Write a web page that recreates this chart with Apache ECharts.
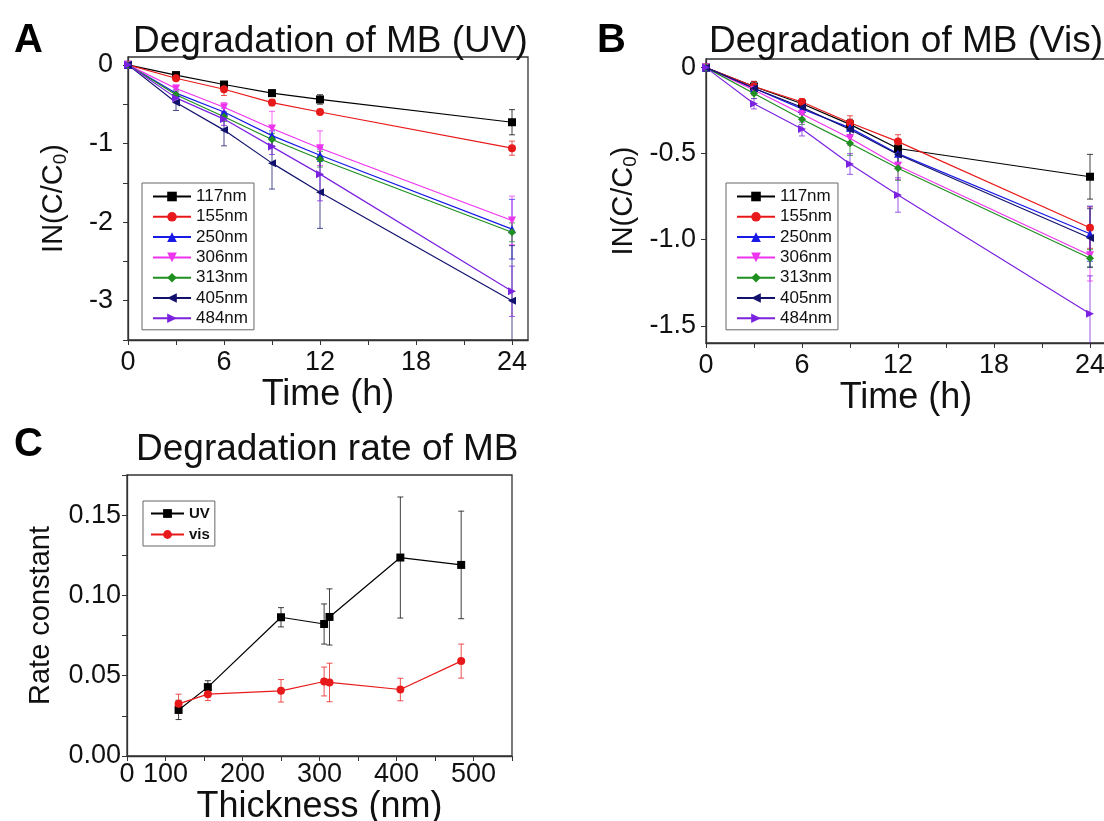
<!DOCTYPE html>
<html><head><meta charset="utf-8">
<script src="https://cdn.jsdelivr.net/npm/echarts@6/dist/echarts.min.js"></script>
<style>html,body{margin:0;padding:0;background:#fff}#c{width:1104px;height:821px}</style>
</head><body><div id="c"></div>
<script>
// ---------- data ----------
const timeH = [0, 3, 6, 9, 12, 24];
const seriesNames = ['117nm', '155nm', '250nm', '306nm', '313nm', '405nm', '484nm'];

// Panel A: UV, ln(C/C0)
const uv117 = [0, -0.13, -0.25, -0.36, -0.44, -0.73];
const uv155 = [0, -0.17, -0.31, -0.48, -0.60, -1.06];
const uv250 = [0, -0.36, -0.60, -0.90, -1.15, -2.09];
const uv306 = [0, -0.30, -0.54, -0.81, -1.06, -1.98];
const uv313 = [0, -0.38, -0.66, -0.95, -1.20, -2.13];
const uv405 = [0, -0.48, -0.83, -1.25, -1.62, -3.00];
const uv484 = [0, -0.42, -0.69, -1.04, -1.39, -2.88];
const uvErr117 = [0, 0.03, 0.03, 0.04, 0.06, 0.16];
const uvErr155 = [0, 0.03, 0.08, 0.04, 0.03, 0.09];
const uvErr250 = [0, 0.05, 0.05, 0.06, 0.08, 0.38];
const uvErr306 = [0, 0.04, 0.06, 0.22, 0.22, 0.31];
const uvErr313 = [0, 0.05, 0.06, 0.08, 0.10, 0.12];
const uvErr405 = [0, 0.10, 0.20, 0.33, 0.46, 0.70];
const uvErr484 = [0, 0.06, 0.08, 0.10, 0.34, 0.32];

// Panel B: visible, ln(C/C0)
const vis117 = [0, -0.11, -0.21, -0.33, -0.47, -0.634];
const vis155 = [0, -0.11, -0.20, -0.32, -0.43, -0.93];
const vis250 = [0, -0.12, -0.24, -0.35, -0.50, -0.965];
const vis306 = [0, -0.13, -0.27, -0.41, -0.57, -1.09];
const vis313 = [0, -0.15, -0.30, -0.44, -0.585, -1.108];
const vis405 = [0, -0.12, -0.23, -0.36, -0.505, -0.99];
const vis484 = [0, -0.21, -0.357, -0.56, -0.74, -1.43];
const visErr117 = [0, 0.03, 0.02, 0.03, 0.04, 0.13];
const visErr155 = [0, 0.03, 0.02, 0.04, 0.04, 0.12];
const visErr250 = [0, 0.03, 0.03, 0.04, 0.05, 0.16];
const visErr306 = [0, 0.03, 0.03, 0.04, 0.08, 0.15];
const visErr313 = [0, 0.03, 0.03, 0.07, 0.07, 0.05];
const visErr405 = [0, 0.02, 0.03, 0.04, 0.05, 0.17];
const visErr484 = [0, 0.03, 0.04, 0.06, 0.10, 0.22];

// Panel C: rate constants vs thickness
const thicknessNm = [117, 155, 250, 306, 313, 405, 484];
const rateUV = [0.0287, 0.0429, 0.0864, 0.0822, 0.0866, 0.1236, 0.1190];
const rateUVErr = [0.006, 0.004, 0.006, 0.0125, 0.0175, 0.0377, 0.0335];
const rateVis = [0.0325, 0.0385, 0.0406, 0.0464, 0.0458, 0.0414, 0.0591];
const rateVisErr = [0.006, 0.004, 0.007, 0.009, 0.012, 0.007, 0.0106];

// Tick positions / labels
const timeTicks = [0, 3, 6, 9, 12, 15, 18, 21, 24];
const timeLabels = [0, 6, 12, 18, 24];
const uvYTicks = [0, -0.5, -1, -1.5, -2, -2.5, -3, -3.5];
const uvYLabels = [0, -1, -2, -3];
const visYTicks = [0, -0.5, -1, -1.5];
const thickTicks = [50, 100, 150, 200, 250, 300, 350, 400, 450, 500, 550];
const thickLabels = [50, 100, 200, 300, 400, 500];
const rateTicks = [0, 0.025, 0.05, 0.075, 0.1, 0.125, 0.15, 0.175];
const rateLabels = [0, 0.05, 0.1, 0.15];

// ---------- styles ----------
const FONT = "'Liberation Sans', Arial, sans-serif";
const lineColors = ['#000000', '#e8191a', '#1a1ae6', '#ee33ee', '#1f8f1f', '#12126e', '#7b22e0'];
const symbols = ['rect', 'circle', 'triangle', 'triangle', 'diamond', 'triangle', 'triangle'];
const symbolRot = [0, 0, 0, 180, 0, 90, -90];
const uvSets = [uv117, uv155, uv250, uv306, uv313, uv405, uv484];
const uvErrSets = [uvErr117, uvErr155, uvErr250, uvErr306, uvErr313, uvErr405, uvErr484];
const visSets = [vis117, vis155, vis250, vis306, vis313, vis405, vis484];
const visErrSets = [visErr117, visErr155, visErr250, visErr306, visErr313, visErr405, visErr484];

function errRender(color) {
  return function (params, api) {
    const x = api.value(0), y = api.value(1), e = api.value(2);
    if (!e) return null;
    const a = api.coord([x, y + e]), b = api.coord([x, y - e]);
    const w = 3;
    const st = { stroke: color, lineWidth: 1, opacity: 0.75 };
    return {
      type: 'group', children: [
        { type: 'line', shape: { x1: a[0], y1: a[1], x2: b[0], y2: b[1] }, style: st },
        { type: 'line', shape: { x1: a[0] - w, y1: a[1], x2: a[0] + w, y2: a[1] }, style: st },
        { type: 'line', shape: { x1: b[0] - w, y1: b[1], x2: b[0] + w, y2: b[1] }, style: st }
      ]
    };
  };
}

const series = [];
function addPanel(sets, errSets, gi, xs) {
  sets.forEach((arr, k) => {
    series.push({
      type: 'custom', name: seriesNames[k] + ' err' + gi, xAxisIndex: gi, yAxisIndex: gi,
      renderItem: errRender(lineColors[k]), clip: true, z: 1,
      encode: { x: 0, y: 1 },
      data: xs.map((t, i) => [t, arr[i], errSets[k][i]])
    });
    series.push({
      type: 'line', name: seriesNames[k], xAxisIndex: gi, yAxisIndex: gi,
      data: xs.map((t, i) => [t, arr[i]]),
      symbol: symbols[k], symbolSize: 8, symbolRotate: symbolRot[k],
      color: lineColors[k], lineStyle: { width: 1.2 }, clip: true, z: 3
    });
  });
}
addPanel(uvSets, uvErrSets, 0, timeH);
addPanel(visSets, visErrSets, 1, timeH);

series.push({
  type: 'custom', name: 'UV err', xAxisIndex: 2, yAxisIndex: 2,
  renderItem: errRender('#000000'), encode: { x: 0, y: 1 }, z: 1,
  data: thicknessNm.map((t, i) => [t, rateUV[i], rateUVErr[i]])
});
series.push({
  type: 'custom', name: 'vis err', xAxisIndex: 2, yAxisIndex: 2,
  renderItem: errRender('#e8191a'), encode: { x: 0, y: 1 }, z: 1,
  data: thicknessNm.map((t, i) => [t, rateVis[i], rateVisErr[i]])
});
series.push({
  type: 'line', name: 'UV', xAxisIndex: 2, yAxisIndex: 2,
  data: thicknessNm.map((t, i) => [t, rateUV[i]]),
  symbol: 'rect', symbolSize: 8, color: '#000000', lineStyle: { width: 1.2 }, z: 3
});
series.push({
  type: 'line', name: 'vis', xAxisIndex: 2, yAxisIndex: 2,
  data: thicknessNm.map((t, i) => [t, rateVis[i]]),
  symbol: 'circle', symbolSize: 8, color: '#e8191a', lineStyle: { width: 1.2 }, z: 3
});

const axisLineStyle = { show: true, onZero: false, lineStyle: { color: '#333', width: 1.3 } };
const tickLabelStyle = { fontFamily: FONT, fontSize: 27, color: '#111' };
const nameRich = {
  a: { fontFamily: FONT, fontSize: 29, color: '#111' },
  s: { fontFamily: FONT, fontSize: 19, color: '#111', padding: [14, 0, 0, 0] }
};

function timeAxis(gi) {
  return {
    type: 'value', gridIndex: gi, min: 0, max: 25,
    name: 'Time (h)', nameLocation: 'middle', nameGap: 27,
    nameTextStyle: { fontFamily: FONT, fontSize: 36, color: '#111' },
    axisLine: axisLineStyle,
    axisTick: { show: true, length: 5, customValues: timeTicks, lineStyle: { color: '#333' } },
    axisLabel: { ...tickLabelStyle, margin: 9, customValues: timeLabels },
    splitLine: { show: false }
  };
}

function legendCfg(left) {
  return {
    data: seriesNames, orient: 'vertical', left: left, top: 183,
    itemWidth: 38, itemHeight: 12, itemGap: 3.3,
    padding: [5, 6, 3, 10], borderColor: '#666', borderWidth: 1,
    textStyle: { fontFamily: FONT, fontSize: 17, color: '#111', lineHeight: 14 },
    selectedMode: false
  };
}

const titleBig = { fontFamily: FONT, fontSize: 40, fontWeight: 'bold', color: '#000' };
const titleText = { fontFamily: FONT, fontSize: 37, fontWeight: 'normal', color: '#111' };
const gridBase = { show: true, borderColor: '#333', borderWidth: 1.3, backgroundColor: 'transparent', outerBoundsMode: 'none', containLabel: false };

const option = {
  backgroundColor: '#ffffff',
  animation: false,
  title: [
    { text: 'A', left: 9, top: 16, textStyle: titleBig },
    { text: 'B', left: 592, top: 16, textStyle: titleBig },
    { text: 'C', left: 9, top: 420, textStyle: titleBig },
    { text: 'Degradation of MB (UV)', left: 128, top: 18, textStyle: titleText },
    { text: 'Degradation of MB (Vis)', left: 704, top: 18, textStyle: titleText },
    { text: 'Degradation rate of MB', left: 131, top: 426, textStyle: titleText }
  ],
  grid: [
    { ...gridBase, left: 128, top: 57, width: 400, height: 283 },
    { ...gridBase, left: 706, top: 59, width: 400, height: 284 },
    { ...gridBase, left: 127, top: 475, width: 385, height: 281 }
  ],
  legend: [
    legendCfg(142),
    legendCfg(726),
    {
      data: ['UV', 'vis'], orient: 'vertical', left: 143, top: 501,
      itemWidth: 33, itemHeight: 11, itemGap: 6,
      padding: [5, 5, 4, 7], borderColor: '#666', borderWidth: 1,
      textStyle: { fontFamily: FONT, fontSize: 15, fontWeight: 'bold', color: '#111', lineHeight: 14 },
      selectedMode: false
    }
  ],
  xAxis: [
    timeAxis(0),
    timeAxis(1),
    {
      type: 'value', gridIndex: 2, min: 50, max: 550,
      name: 'Thickness (nm)', nameLocation: 'middle', nameGap: 25,
      nameTextStyle: { fontFamily: FONT, fontSize: 36, color: '#111' },
      axisLine: axisLineStyle,
      axisTick: { show: true, length: 5, customValues: thickTicks, lineStyle: { color: '#333' } },
      axisLabel: { ...tickLabelStyle, margin: 5, customValues: thickLabels, formatter: v => (v === 50 ? '0' : String(v)) },
      splitLine: { show: false }
    }
  ],
  yAxis: [
    {
      type: 'value', gridIndex: 0, min: -3.5, max: 0.1,
      name: '{a|IN(C/C}{s|0}{a|)}', nameLocation: 'middle', nameGap: 58, nameRotate: 90,
      nameTextStyle: { rich: nameRich },
      axisLine: axisLineStyle,
      axisTick: { show: true, length: 5, customValues: uvYTicks, lineStyle: { color: '#333' } },
      axisLabel: { ...tickLabelStyle, margin: 15, customValues: uvYLabels, formatter: v => String(v) },
      splitLine: { show: false }
    },
    {
      type: 'value', gridIndex: 1, min: -1.6, max: 0.05,
      name: '{a|IN(C/C}{s|0}{a|)}', nameLocation: 'middle', nameGap: 66, nameRotate: 90,
      nameTextStyle: { rich: nameRich },
      axisLine: axisLineStyle,
      axisTick: { show: true, length: 5, customValues: visYTicks, lineStyle: { color: '#333' } },
      axisLabel: { ...tickLabelStyle, margin: 10, customValues: visYTicks, formatter: v => (v === 0 ? '0' : v.toFixed(1)) },
      splitLine: { show: false }
    },
    {
      type: 'value', gridIndex: 2, min: 0, max: 0.175,
      name: 'Rate constant', nameLocation: 'middle', nameGap: 72, nameRotate: 90,
      nameTextStyle: { fontFamily: FONT, fontSize: 29, color: '#111' },
      axisLine: axisLineStyle,
      axisTick: { show: true, length: 5, customValues: rateTicks, lineStyle: { color: '#333' } },
      axisLabel: { ...tickLabelStyle, margin: 6, customValues: rateLabels, formatter: v => v.toFixed(2) },
      splitLine: { show: false }
    }
  ],
  series: series
};

const chart = echarts.init(document.getElementById('c'), null, { renderer: 'canvas' });
chart.setOption(option);
</script>
</body></html>
